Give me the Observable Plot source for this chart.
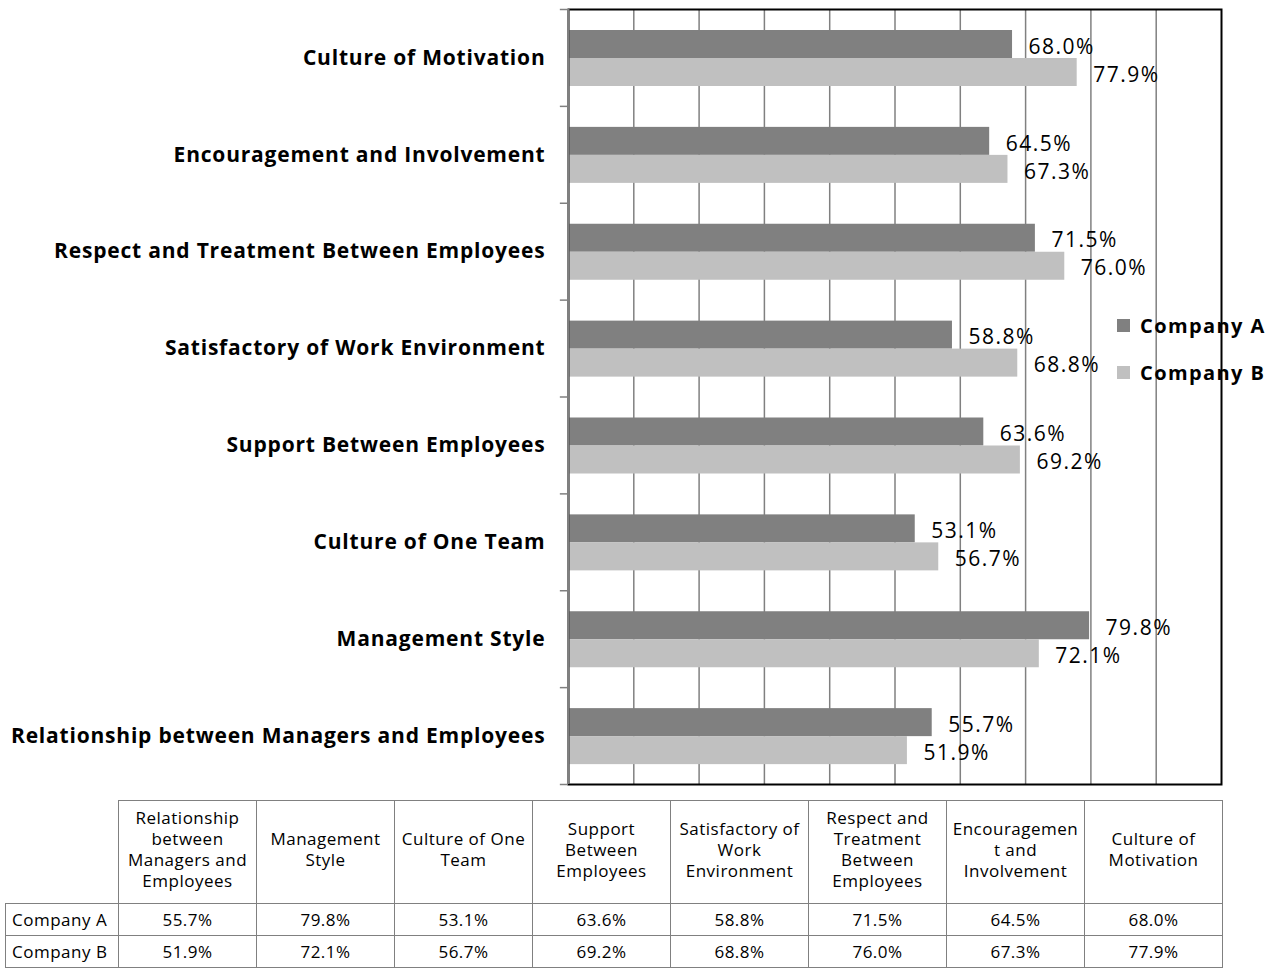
<!DOCTYPE html>
<html>
<head>
<meta charset="utf-8">
<script src="https://cdn.jsdelivr.net/npm/d3@7"></script>
<script src="https://cdn.jsdelivr.net/npm/@observablehq/plot@0.6"></script>
<style>
  html, body { margin: 0; padding: 0; background: #fff; }
  #wrap { position: relative; width: 1276px; height: 973px; font-family: "Open Sans", sans-serif; }
  #chart svg { display: block; }
  #legend { position: absolute; left: 1117px; top: 311px; font-weight: bold; font-size: 20px; letter-spacing: 1.4px; color: #000; }
  #legend .item { display: flex; align-items: center; height: 28px; margin-bottom: 19px; }
  #legend .sw { width: 13px; height: 13px; margin-right: 10px; }
  #tbl { position: absolute; left: 5px; top: 800px; border-collapse: collapse; table-layout: fixed; width: 1217px; font-size: 17px; letter-spacing: 0.5px; color: #000; }
  #tbl td { border: 1.5px solid #808080; text-align: center; padding: 0; overflow: visible; white-space: nowrap; }
  #tbl tr.head td { height: 96px; line-height: 21px; padding-bottom: 6px; }
  #tbl tr.data td { height: 31px; }
  #tbl td.rowlab { text-align: left; padding-left: 6px; }
  #tbl td.blank { border-top: none; border-left: none; }
</style>
</head>
<body>
<div id="wrap">
  <div id="chart"></div>
  <div id="legend"></div>
  <table id="tbl"></table>
</div>
<script>
// Categories, top to bottom in the chart
const categories = [
  "Culture of Motivation",
  "Encouragement and Involvement",
  "Respect and Treatment Between Employees",
  "Satisfactory of Work Environment",
  "Support Between Employees",
  "Culture of One Team",
  "Management Style",
  "Relationship between Managers and Employees"
];
const companyA = [68.0, 64.5, 71.5, 58.8, 63.6, 53.1, 79.8, 55.7];
const companyB = [77.9, 67.3, 76.0, 68.8, 69.2, 56.7, 72.1, 51.9];
const seriesNames = ["Company A", "Company B"];
const seriesColors = ["#808080", "#c0c0c0"];
const gridTicks = [10, 20, 30, 40, 50, 60, 70, 80, 90];
// Table header labels as wrapped in the reference (table order: bottom to top)
const tableHeaders = [
  ["Relationship", "between", "Managers and", "Employees"],
  ["Management", "Style"],
  ["Culture of One", "Team"],
  ["Support", "Between", "Employees"],
  ["Satisfactory of", "Work", "Environment"],
  ["Respect and", "Treatment", "Between", "Employees"],
  ["Encouragemen", "t and", "Involvement"],
  ["Culture of", "Motivation"]
];

const rowsA = categories.map((c, i) => ({category: c, value: companyA[i]}));
const rowsB = categories.map((c, i) => ({category: c, value: companyB[i]}));

const H = 790, MT = 9, MB = 6;
const step = (H - MT - MB) / categories.length;
const barH = 28;
const topGap = 21;
const fmt = v => v.toFixed(1) + "%";

const chart = Plot.plot({
  width: 1276,
  height: H,
  marginLeft: 568,
  marginRight: 55,
  marginTop: MT,
  marginBottom: MB,
  x: {domain: [0, 100], axis: null},
  y: {domain: categories, padding: 0, round: false, label: null},
  style: {fontFamily: "Open Sans, sans-serif", background: "white"},
  marks: [
    Plot.ruleX(gridTicks, {stroke: "#808080", strokeWidth: 1.5}),
    Plot.barX(rowsA, {y: "category", x: "value", fill: seriesColors[0], insetTop: topGap, insetBottom: step - topGap - barH}),
    Plot.barX(rowsB, {y: "category", x: "value", fill: seriesColors[1], insetTop: topGap + barH, insetBottom: step - topGap - 2 * barH}),
    Plot.frame({stroke: "black", strokeWidth: 2}),
    Plot.ruleX([0], {stroke: "#808080", strokeWidth: 2}),
    Plot.ruleY(categories, {y: d => d, x1: -1.25, x2: 0, dy: -step / 2, stroke: "#808080", strokeWidth: 1.5}),
    Plot.ruleY(categories.slice(-1), {y: d => d, x1: -1.25, x2: 0, dy: step / 2, stroke: "#808080", strokeWidth: 1.5}),
    Plot.axisY({tickSize: 0, tickPadding: 23, fontSize: 21, fontWeight: "bold", fill: "black", label: null}),
    Plot.text(rowsA, {y: "category", x: "value", text: d => fmt(d.value), dx: 16, dy: -11, textAnchor: "start", fontSize: 21, fill: "black"}),
    Plot.text(rowsB, {y: "category", x: "value", text: d => fmt(d.value), dx: 16, dy: 17, textAnchor: "start", fontSize: 21, fill: "black"})
  ]
});
document.getElementById("chart").appendChild(chart);
// letter spacing tweaks to approximate the reference's typeface widths
chart.querySelectorAll('g[aria-label="y-axis tick label"] text').forEach(t => t.style.letterSpacing = "0.8px");
chart.querySelectorAll('g[aria-label="text"] text').forEach(t => t.style.letterSpacing = "1.5px");

// Legend
const legend = document.getElementById("legend");
seriesNames.forEach((n, i) => {
  const it = document.createElement("div");
  it.className = "item";
  it.innerHTML = `<div class="sw" style="background:${seriesColors[i]}"></div><span>${n}</span>`;
  legend.appendChild(it);
});

// Data table (order: bottom to top of chart)
const tableOrder = categories.map((c, i) => i).reverse();
const tbl = document.getElementById("tbl");
let html = `<colgroup><col style="width:113px">` + tableOrder.map(() => `<col style="width:138px">`).join("") + `</colgroup>`;
html += `<tr class="head"><td class="blank rowlab"></td>`;
tableOrder.forEach((idx, j) => { html += `<td>${tableHeaders[j].join("<br>")}</td>`; });
html += `</tr>`;
[companyA, companyB].forEach((vals, s) => {
  html += `<tr class="data"><td class="rowlab">${seriesNames[s]}</td>`;
  tableOrder.forEach(idx => { html += `<td>${fmt(vals[idx])}</td>`; });
  html += `</tr>`;
});
tbl.innerHTML = html;
</script>
</body>
</html>
